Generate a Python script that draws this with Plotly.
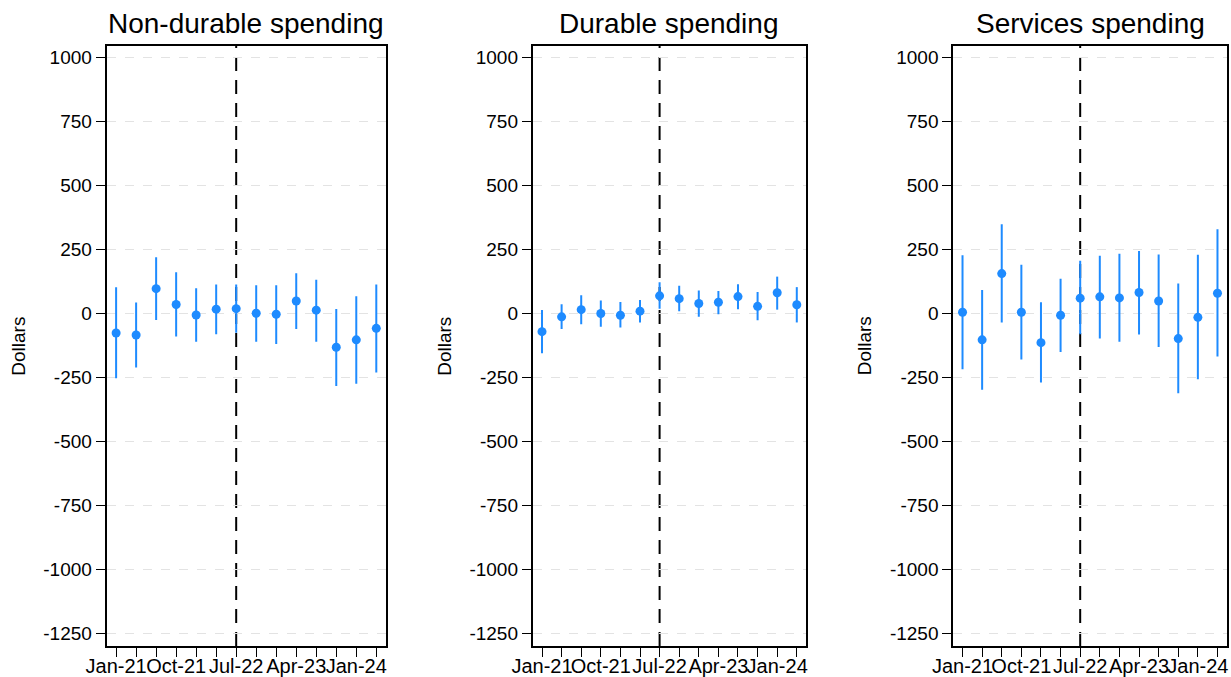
import plotly.graph_objects as go

# ---------------- data ----------------
quarters = ["Jan-21", "Apr-21", "Jul-21", "Oct-21", "Jan-22", "Apr-22", "Jul-22",
            "Oct-22", "Jan-23", "Apr-23", "Jul-23", "Oct-23", "Jan-24", "Apr-24"]
shown_labels = ["Jan-21", "Oct-21", "Jul-22", "Apr-23", "Jan-24"]
event_quarter = "Jul-22"

titles = ["Non-durable spending", "Durable spending", "Services spending"]

nondurable_est = [-77, -85, 96, 34, -7, 16, 18, 0, -4, 48, 12, -133, -104, -59]
nondurable_hi = [102, 42, 219, 160, 98, 112, 112, 109, 109, 156, 131, 17, 66, 112]
nondurable_lo = [-254, -212, -26, -91, -111, -82, -76, -111, -120, -62, -111, -284, -275, -232]

durable_est = [-72, -14, 14, -1, -8, 8, 68, 57, 38, 43, 65, 27, 80, 33]
durable_hi = [13, 35, 70, 50, 44, 52, 121, 107, 89, 87, 113, 83, 143, 102]
durable_lo = [-156, -62, -43, -53, -56, -36, 18, 8, -14, -4, 16, -27, 14, -36]

services_est = [4, -104, 155, 4, -115, -8, 59, 64, 60, 81, 48, -99, -16, 78]
services_hi = [227, 91, 348, 189, 43, 135, 205, 225, 232, 243, 229, 116, 228, 328]
services_lo = [-219, -299, -36, -181, -271, -151, -82, -99, -111, -83, -132, -313, -258, -169]

y_ticks = [1000, 750, 500, 250, 0, -250, -500, -750, -1000, -1250]
y_tick_labels = ["1000", "750", "500", "250", "0", "-250", "-500", "-750", "-1000", "-1250"]

series = [
    (nondurable_est, nondurable_lo, nondurable_hi),
    (durable_est, durable_lo, durable_hi),
    (services_est, services_lo, services_hi),
]

# ---------------- layout constants ----------------
W, H = 1231, 677
FONT = "Arial, Liberation Sans, Helvetica, sans-serif"
BLUE = "#1e8bff"
x_domains_px = [(106.7, 385.7), (532.8, 806.0), (953.3, 1226.7)]
y_top_px, y_bot_px = 46, 646
y_domain = [1 - y_bot_px / H, 1 - y_top_px / H]

xpos = list(range(len(quarters)))
tick_text = [q if q in shown_labels else "" for q in quarters]
event_x = quarters.index(event_quarter)

fig = go.Figure()
annotations = []
shapes = []

for i, ((est, lo, hi), title) in enumerate(zip(series, titles)):
    n = i + 1
    xa = "x" if n == 1 else f"x{n}"
    ya = "y" if n == 1 else f"y{n}"
    fig.add_trace(go.Scatter(
        x=xpos, y=est, mode="markers", xaxis=xa, yaxis=ya,
        marker=dict(color=BLUE, size=9),
        error_y=dict(type="data", symmetric=False,
                     array=[h - e for h, e in zip(hi, est)],
                     arrayminus=[e - l for e, l in zip(est, lo)],
                     color=BLUE, thickness=2, width=0),
        showlegend=False, hoverinfo="skip",
    ))
    x0, x1 = x_domains_px[i]
    axis_common = dict(showline=True, linecolor="black", linewidth=2, mirror=True,
                       ticks="outside", ticklen=9, tickwidth=1.3, tickcolor="black",
                       automargin=False)
    fig.layout[f"xaxis{'' if n == 1 else n}"] = dict(
        domain=[x0 / W, x1 / W], anchor=ya, range=[-0.47, 13.47],
        tickmode="array", tickvals=xpos, ticktext=tick_text, tickangle=0,
        ticklabelstandoff=-8,
        tickfont=dict(family=FONT, size=20, color="black"),
        showgrid=False, zeroline=False, **axis_common)
    fig.layout[f"yaxis{'' if n == 1 else n}"] = dict(
        domain=y_domain, anchor=xa, range=[-1300, 1044],
        tickmode="array", tickvals=y_ticks, ticktext=y_tick_labels,
        tickfont=dict(family=FONT, size=19, color="black"),
        showgrid=True, gridcolor="#e3e3e3", gridwidth=1.3, griddash="dash",
        zeroline=False, **axis_common)
    shapes.append(dict(type="line", xref=xa, yref=f"{ya} domain",
                       x0=event_x, x1=event_x, y0=0, y1=1,
                       line=dict(color="black", width=2, dash="14px,9px"),
                       layer="below"))
    annotations.append(dict(text=title, xref="paper", yref="paper",
                            x=(x0 + x1) / 2 / W, y=1 - 23 / H,
                            xanchor="center", yanchor="middle", showarrow=False,
                            font=dict(family=FONT, size=28, color="black")))
    annotations.append(dict(text="Dollars", xref="paper", yref="paper",
                            x=(x0 - 89) / W, y=sum(y_domain) / 2,
                            xanchor="center", yanchor="middle", showarrow=False,
                            textangle=-90,
                            font=dict(family=FONT, size=19, color="black")))

fig.update_layout(
    width=W, height=H,
    margin=dict(l=0, r=0, t=0, b=0),
    paper_bgcolor="white", plot_bgcolor="white",
    annotations=annotations, shapes=shapes,
    font=dict(family=FONT, color="black"),
)

fig.write_html(
    "out.html",
    config={"displayModeBar": False},
    post_script="document.body.style.margin='0';document.body.style.overflow='hidden';",
)
